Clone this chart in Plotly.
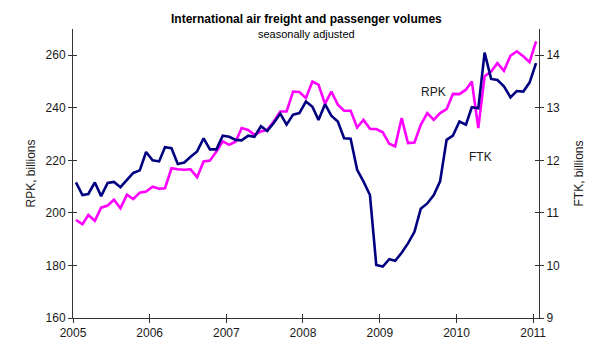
import plotly.graph_objects as go

# Monthly data, Jan 2005 - Jan 2011 (plotted mid-month)
dates = [f"{2005 + m // 12}-{m % 12 + 1:02d}-15" for m in range(73)]

rpk = [197.3, 195.7, 199.2, 197.0, 202.0, 202.8, 205.0, 201.8, 206.9, 205.3, 207.7, 208.1,
       210.0, 209.2, 209.4, 217.0, 216.6, 216.4, 216.6, 213.6, 219.6, 219.9, 223.4, 227.2,
       225.9, 227.2, 232.3, 231.6, 229.7, 231.0, 231.6, 234.8, 238.6, 238.6, 246.2, 246.0,
       243.7, 250.0, 248.8, 241.5, 246.2, 241.2, 238.9, 238.9, 232.5, 235.4, 232.0, 231.9,
       230.7, 226.3, 225.3, 236.1, 226.6, 226.8, 233.5, 238.0, 235.4, 238.0, 239.5, 245.3,
       245.2, 246.9, 250.0, 232.3, 252.0, 253.8, 257.0, 254.1, 259.8, 261.5, 259.6, 257.4,
       265.3]

ftk = [11.58, 11.34, 11.36, 11.58, 11.32, 11.57, 11.59, 11.49, 11.63, 11.76, 11.81, 12.16,
       12.00, 11.98, 12.25, 12.23, 11.93, 11.96, 12.07, 12.17, 12.42, 12.21, 12.21, 12.47,
       12.45, 12.39, 12.38, 12.47, 12.45, 12.65, 12.56, 12.71, 12.89, 12.68, 12.87, 12.90,
       13.12, 13.02, 12.77, 13.07, 12.85, 12.74, 12.42, 12.41, 11.82, 11.60, 11.34, 10.01,
       9.98, 10.12, 10.09, 10.24, 10.42, 10.64, 11.08, 11.18, 11.34, 11.60, 12.39, 12.47,
       12.74, 12.68, 13.01, 12.99, 14.05, 13.55, 13.53, 13.41, 13.20, 13.32, 13.31, 13.48,
       13.85]

year_ticks = [f"{y}-01-01" for y in range(2005, 2012)]
year_labels = [str(y) for y in range(2005, 2012)]
left_ticks = [160, 180, 200, 220, 240, 260]
right_ticks = [9, 10, 11, 12, 13, 14]

FONT = "Arial, Liberation Sans, sans-serif"
TXT = "#1a1a1a"
AX = "#333333"
xrange_ = ["2005-01-01", "2011-01-29"]

fig = go.Figure()
fig.add_trace(go.Scatter(x=dates, y=rpk, mode="lines", name="RPK",
                         line=dict(color="#FF00FF", width=2.6), xaxis="x", yaxis="y"))
fig.add_trace(go.Scatter(x=dates, y=ftk, mode="lines", name="FTK",
                         line=dict(color="#000080", width=2.6), xaxis="x", yaxis="y2"))

common = dict(showgrid=False, zeroline=False, tickfont=dict(family=FONT, size=12, color=TXT))

fig.update_layout(
    width=600, height=354,
    margin=dict(l=73, r=61, t=29, b=36),
    paper_bgcolor="white", plot_bgcolor="white",
    showlegend=False,
    xaxis=dict(type="date", range=xrange_, tickvals=year_ticks, ticktext=year_labels,
               ticks="outside", ticklen=4, tickcolor=AX, showline=True, linecolor=AX,
               linewidth=1, **common),
    xaxis2=dict(type="date", range=xrange_, overlaying="x", tickvals=year_ticks,
                ticks="inside", ticklen=4, tickcolor=AX, showticklabels=False,
                showline=False, showgrid=False, zeroline=False),
    yaxis=dict(range=[160, 270], tickvals=left_ticks, ticks="outside", ticklen=4,
               tickcolor=AX, showline=True, linecolor=AX, linewidth=1, **common),
    yaxis2=dict(range=[9, 14.5], overlaying="y", side="right", tickvals=right_ticks,
                ticks="outside", ticklen=4, tickcolor=AX, showline=True, linecolor=AX,
                linewidth=1, **common),
    yaxis3=dict(range=[160, 270], overlaying="y", side="left", tickvals=left_ticks,
                ticks="inside", ticklen=4, tickcolor=AX, showticklabels=False,
                showline=False, showgrid=False, zeroline=False),
    yaxis4=dict(range=[9, 14.5], overlaying="y", side="right", tickvals=right_ticks,
                ticks="inside", ticklen=4, tickcolor=AX, showticklabels=False,
                showline=False, showgrid=False, zeroline=False),
)

# invisible helper traces so the inside-tick overlay axes get drawn
fig.add_trace(go.Scatter(x=[None], y=[None], xaxis="x2", yaxis="y3", showlegend=False,
                         hoverinfo="skip"))
fig.add_trace(go.Scatter(x=[None], y=[None], xaxis="x2", yaxis="y4", showlegend=False,
                         hoverinfo="skip"))

ann = [
    dict(text="<b>International air freight and passenger volumes</b>", xref="paper", yref="paper",
         x=0.5, y=(318 - 19) / 289, xanchor="center", yanchor="middle", showarrow=False,
         font=dict(family=FONT, size=12, color="black")),
    dict(text="seasonally adjusted", xref="paper", yref="paper",
         x=0.5, y=(318 - 34) / 289, xanchor="center", yanchor="middle", showarrow=False,
         font=dict(family=FONT, size=11, color="black")),
    dict(text="RPK, billions", xref="paper", yref="paper", x=(30 - 73) / 466, y=0.5,
         textangle=-90, xanchor="center", yanchor="middle", showarrow=False,
         font=dict(family=FONT, size=12, color=TXT)),
    dict(text="FTK, billions", xref="paper", yref="paper", x=(578 - 73) / 466, y=0.5,
         textangle=-90, xanchor="center", yanchor="middle", showarrow=False,
         font=dict(family=FONT, size=12, color=TXT)),
    dict(text="RPK", xref="x", yref="y", x="2009-09-15", y=246, xanchor="center",
         yanchor="middle", showarrow=False, font=dict(family=FONT, size=12, color=TXT)),
    dict(text="FTK", xref="x", yref="y", x="2010-04-26", y=221.3, xanchor="center",
         yanchor="middle", showarrow=False, font=dict(family=FONT, size=12, color=TXT)),
]
fig.update_layout(annotations=ann)

fig.write_html("out.html")
